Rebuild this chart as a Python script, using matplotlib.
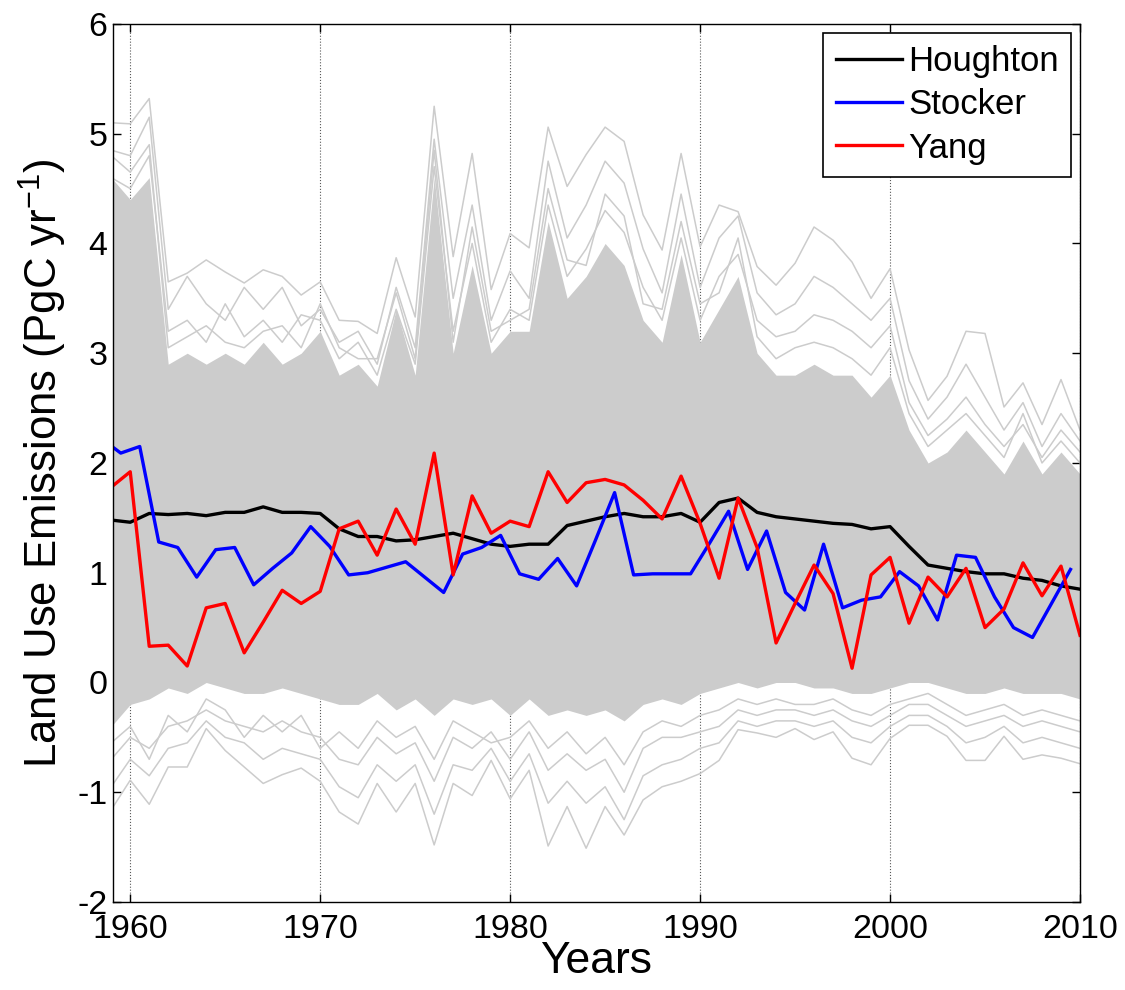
import matplotlib
matplotlib.use("Agg")
import matplotlib.pyplot as plt
import numpy as np

plt.rcParams['font.family'] = ['Liberation Sans', 'DejaVu Sans']
plt.rcParams['mathtext.fontset'] = 'custom'
plt.rcParams['mathtext.rm'] = 'Liberation Sans'
plt.rcParams['mathtext.it'] = 'Liberation Sans:italic'
plt.rcParams['axes.unicode_minus'] = False

# annual values, 1959-2010
years = np.arange(1959, 2011)

houghton = [1.48, 1.46, 1.54, 1.53, 1.54, 1.52, 1.55, 1.55, 1.60, 1.55,
            1.55, 1.54, 1.40, 1.33, 1.33, 1.29, 1.30, 1.33, 1.36, 1.31,
            1.26, 1.24, 1.26, 1.26, 1.43, 1.47, 1.51, 1.54, 1.51, 1.51,
            1.54, 1.46, 1.64, 1.68, 1.55, 1.51, 1.49, 1.47, 1.45, 1.44,
            1.40, 1.42, 1.24, 1.07, 1.04, 1.01, 0.99, 0.99, 0.95, 0.93,
            0.88, 0.85]

yang = [1.78, 1.92, 0.33, 0.34, 0.15, 0.68, 0.72, 0.27, 0.55, 0.84,
        0.72, 0.83, 1.40, 1.47, 1.16, 1.58, 1.26, 2.09, 0.98, 1.70,
        1.36, 1.47, 1.42, 1.92, 1.64, 1.82, 1.85, 1.80, 1.66, 1.49,
        1.88, 1.45, 0.95, 1.68, 1.23, 0.36, 0.72, 1.07, 0.81, 0.13,
        0.98, 1.14, 0.54, 0.96, 0.78, 1.04, 0.50, 0.67, 1.09, 0.79,
        1.06, 0.43]

# Stocker is reported at mid-year
stocker_years = np.arange(1958.5, 2010)
stocker = [2.22, 2.09, 2.15, 1.28, 1.23, 0.96, 1.21, 1.23, 0.89, 1.04,
           1.18, 1.42, 1.24, 0.98, 1.00, 1.05, 1.10, 0.96, 0.82, 1.17,
           1.23, 1.34, 0.99, 0.94, 1.13, 0.88, 1.30, 1.73, 0.98, 0.99,
           0.99, 0.99, 1.27, 1.56, 1.03, 1.38, 0.82, 0.66, 1.26, 0.68,
           0.75, 0.78, 1.01, 0.88, 0.57, 1.16, 1.14, 0.78, 0.50, 0.41,
           0.72, 1.03]

# ensemble spread: dense band plus outer members
dense_hi = [4.6, 4.4, 4.6, 2.9, 3.0, 2.9, 3.0, 2.9, 3.1, 2.9,
            3.0, 3.2, 2.8, 2.9, 2.7, 3.4, 2.8, 4.6, 3.0, 3.8,
            3.0, 3.2, 3.2, 4.2, 3.5, 3.7, 4.0, 3.8, 3.3, 3.1,
            3.9, 3.1, 3.4, 3.7, 3.0, 2.8, 2.8, 2.9, 2.8, 2.8,
            2.6, 2.8, 2.3, 2.0, 2.1, 2.3, 2.1, 1.9, 2.2, 1.9,
            2.1, 1.9]
dense_lo = [-0.40, -0.20, -0.15, -0.05, -0.10, 0.00, -0.05, -0.10, -0.10, -0.05,
            -0.10, -0.15, -0.20, -0.20, -0.10, -0.25, -0.15, -0.30, -0.15, -0.20,
            -0.15, -0.30, -0.15, -0.30, -0.25, -0.30, -0.25, -0.35, -0.20, -0.15,
            -0.20, -0.10, -0.05, 0.00, -0.05, 0.00, 0.00, -0.05, -0.05, -0.10,
            -0.10, -0.05, 0.00, 0.00, -0.05, -0.10, -0.10, -0.05, -0.10, -0.10,
            -0.10, -0.15]

hi_max = [5.10, 5.09, 5.32, 3.65, 3.73, 3.85, 3.74, 3.64, 3.76, 3.70,
          3.53, 3.65, 3.30, 3.29, 3.18, 3.87, 3.33, 5.25, 3.88, 4.82,
          3.58, 4.09, 3.96, 5.06, 4.52, 4.81, 5.06, 4.93, 4.26, 3.94,
          4.82, 3.97, 4.35, 4.29, 3.79, 3.62, 3.82, 4.15, 4.03, 3.83,
          3.50, 3.77, 3.03, 2.57, 2.79, 3.20, 3.18, 2.51, 2.73, 2.35,
          2.76, 2.30]
hi_2 = [4.85, 4.80, 5.15, 3.40, 3.70, 3.45, 3.30, 3.60, 3.40, 3.60,
        3.25, 3.40, 3.10, 3.20, 2.90, 3.60, 3.05, 4.95, 3.50, 4.35,
        3.30, 3.75, 3.50, 4.75, 4.05, 4.35, 4.75, 4.55, 3.95, 3.55,
        4.45, 3.60, 4.05, 4.25, 3.55, 3.35, 3.45, 3.70, 3.60, 3.45,
        3.30, 3.50, 2.75, 2.40, 2.60, 2.90, 2.60, 2.30, 2.55, 2.15,
        2.45, 2.20]
hi_3 = [4.60, 4.50, 4.80, 3.20, 3.30, 3.10, 3.45, 3.15, 3.30, 3.10,
        3.35, 3.30, 2.95, 3.10, 2.80, 3.40, 2.90, 4.70, 3.20, 4.00,
        3.10, 3.40, 3.30, 4.35, 3.70, 3.95, 4.30, 4.10, 3.60, 3.30,
        4.05, 3.30, 3.70, 3.90, 3.30, 3.15, 3.20, 3.35, 3.30, 3.20,
        3.05, 3.25, 2.55, 2.25, 2.40, 2.60, 2.35, 2.15, 2.35, 2.05,
        2.30, 2.10]
hi_4 = [4.80, 4.65, 4.90, 3.05, 3.15, 3.25, 3.10, 3.05, 3.20, 3.25,
        3.05, 3.45, 3.05, 2.95, 2.95, 3.55, 2.95, 4.85, 3.10, 4.15,
        3.20, 3.30, 3.40, 4.50, 3.85, 3.80, 4.45, 4.25, 3.45, 3.40,
        4.20, 3.45, 3.55, 4.05, 3.15, 2.95, 3.05, 3.10, 3.05, 2.95,
        2.80, 3.05, 2.45, 2.15, 2.30, 2.45, 2.25, 2.05, 2.45, 2.00,
        2.20, 2.00]
lo_min = [-1.16, -0.89, -1.11, -0.77, -0.77, -0.42, -0.62, -0.77, -0.92, -0.84,
          -0.78, -0.90, -1.18, -1.29, -0.92, -1.18, -0.92, -1.48, -0.92, -1.03,
          -0.71, -1.06, -0.80, -1.49, -1.13, -1.51, -1.13, -1.39, -1.07, -0.95,
          -0.90, -0.83, -0.71, -0.43, -0.46, -0.50, -0.42, -0.52, -0.45, -0.69,
          -0.75, -0.51, -0.39, -0.39, -0.49, -0.71, -0.71, -0.49, -0.70, -0.66,
          -0.69, -0.74]
lo_2 = [-0.95, -0.70, -0.85, -0.60, -0.55, -0.35, -0.50, -0.55, -0.70, -0.60,
        -0.65, -0.70, -0.95, -1.05, -0.75, -0.90, -0.75, -1.20, -0.75, -0.80,
        -0.60, -0.90, -0.65, -1.10, -0.90, -1.10, -0.95, -1.25, -0.85, -0.75,
        -0.70, -0.60, -0.55, -0.35, -0.40, -0.35, -0.35, -0.40, -0.35, -0.50,
        -0.55, -0.40, -0.30, -0.30, -0.40, -0.55, -0.50, -0.40, -0.55, -0.50,
        -0.55, -0.60]
lo_3 = [-0.70, -0.50, -0.60, -0.40, -0.35, -0.25, -0.35, -0.40, -0.45, -0.35,
        -0.45, -0.50, -0.70, -0.75, -0.50, -0.65, -0.55, -0.90, -0.50, -0.60,
        -0.45, -0.70, -0.45, -0.80, -0.65, -0.80, -0.70, -1.00, -0.60, -0.50,
        -0.50, -0.45, -0.40, -0.25, -0.30, -0.25, -0.25, -0.30, -0.25, -0.35,
        -0.40, -0.30, -0.20, -0.20, -0.30, -0.40, -0.35, -0.30, -0.40, -0.35,
        -0.40, -0.45]
lo_4 = [-0.55, -0.40, -0.70, -0.30, -0.45, -0.15, -0.25, -0.50, -0.30, -0.45,
        -0.30, -0.60, -0.45, -0.60, -0.35, -0.50, -0.40, -0.70, -0.35, -0.45,
        -0.55, -0.50, -0.35, -0.60, -0.45, -0.65, -0.50, -0.75, -0.45, -0.35,
        -0.40, -0.30, -0.25, -0.15, -0.20, -0.15, -0.20, -0.20, -0.15, -0.25,
        -0.30, -0.20, -0.15, -0.10, -0.20, -0.30, -0.25, -0.20, -0.30, -0.25,
        -0.30, -0.35]

ens_color = '#cccccc'

fig = plt.figure(figsize=(11.25, 9.9), dpi=100)
ax = fig.add_axes([0.1004, 0.0889, 0.8596, 0.8869])

ax.fill_between(years, dense_lo, dense_hi, color=ens_color, lw=0, zorder=1)
for member in (hi_max, hi_2, hi_3, hi_4, lo_min, lo_2, lo_3, lo_4):
    ax.plot(years, member, color=ens_color, lw=1.1, zorder=1)

ax.plot(years, houghton, color='black', lw=2.4, label='Houghton', zorder=3)
ax.plot(stocker_years, stocker, color='blue', lw=2.4, label='Stocker', zorder=3)
ax.plot(years, yang, color='red', lw=2.4, label='Yang', zorder=3)

ax.set_xlim(1959.09, 2010)
ax.set_ylim(-2, 6)
ax.set_xticks(np.arange(1960, 2011, 10))
ax.set_yticks(np.arange(-2, 7, 1))

ax.set_axisbelow(True)
ax.xaxis.grid(True, linestyle=':', color='0.35', lw=0.8)
ax.yaxis.grid(False)

ax.tick_params(direction='in', length=6, width=1, top=True, right=True,
               labelsize=24.5)
ax.tick_params(axis='x', pad=9)
ax.tick_params(axis='y', pad=4)
for sp in ax.spines.values():
    sp.set_linewidth(1.0)
    sp.set_zorder(5)

ax.set_xlabel('Years', fontsize=32, labelpad=-3)
ax.set_ylabel('Land Use Emissions (PgC yr$^{\\mathrm{-1}}$)', fontsize=31.5,
              labelpad=6)

leg = ax.legend(loc='upper right', fontsize=25, frameon=True, fancybox=False,
                handlelength=1.9, handletextpad=0.2, labelspacing=0.3,
                borderpad=0.35, borderaxespad=0.25)
leg.get_frame().set_edgecolor('black')
leg.get_frame().set_linewidth(1.2)
leg.get_frame().set_alpha(1)

fig.savefig('out.png', dpi=100, facecolor='white')
